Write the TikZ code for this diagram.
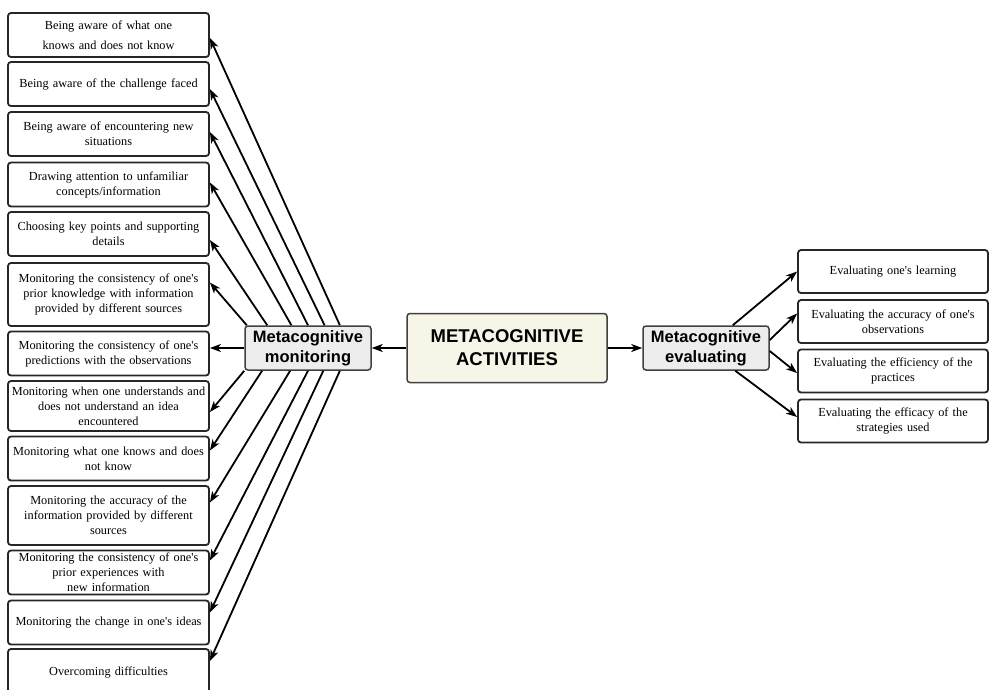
\documentclass[tikz,border=0pt]{standalone}
\usepackage{fontspec}
\setmainfont{Liberation Serif}
\setsansfont{Liberation Sans}
\usepackage{tikz}
\usetikzlibrary{calc, arrows.meta}

\definecolor{cream}{HTML}{F7F5E8}
\definecolor{lightgr}{HTML}{EDEDED}
\newcommand{\q}{\textquotesingle}

\begin{document}
\begin{tikzpicture}[x=1pt, y=-1pt, >={Stealth[length=11pt,width=8pt,inset=3pt]},
    item/.style={draw=black!85, line width=1.8pt, rounded corners=3pt, align=center,
        inner sep=2pt, font=\fontsize{12.3}{15}\selectfont},
    lbox/.style={item, text width=197pt, minimum height=44pt},
    rbox/.style={item, text width=186pt, minimum height=43pt},
    mid/.style={draw=black!75, fill=lightgr, line width=1.5pt, rounded corners=3pt,
        align=center, inner sep=1pt, minimum width=126pt, minimum height=44pt,
        font=\fontsize{16.5}{20}\selectfont\sffamily\bfseries},
    link/.style={->, line width=1.8pt}]
    \useasboundingbox (0,0) rectangle (990,689);

    % Noi dung chinh
    \node[mid, fill=cream, minimum width=200pt, minimum height=69pt,
        font=\fontsize{18.5}{23}\selectfont\sffamily\bfseries] (act) at (507,348)
        {METACOGNITIVE\\ACTIVITIES};
    \node[mid] (mon) at (308,348) {Metacognitive\\monitoring};
    \node[mid] (ev) at (706,348) {Metacognitive\\evaluating};

    % Cot ben trai
    \node[lbox] (m1) at (108.5,35) {Being aware of what one\\[5pt]knows and does not know};
    \node[lbox] (m2) at (108.5,84) {Being aware of the challenge faced};
    \node[lbox] (m3) at (108.5,134) {Being aware of encountering new\\situations};
    \node[lbox] (m4) at (108.5,184.5) {Drawing attention to unfamiliar\\concepts/information};
    \node[lbox] (m5) at (108.5,234) {Choosing key points and supporting\\details};
    \node[lbox, minimum height=63pt] (m6) at (108.5,294.5)
        {Monitoring the consistency of one\q s\\prior knowledge with information\\provided by different sources};
    \node[lbox] (m7) at (108.5,353.5)
        {Monitoring the consistency of one\q s\\predictions with the observations};
    \node[lbox, minimum height=50pt] (m8) at (108.5,406)
        {Monitoring when one understands and\\does not understand an idea\\encountered};
    \node[lbox] (m9) at (108.5,458.5) {Monitoring what one knows and does\\not know};
    \node[lbox, minimum height=59pt] (m10) at (108.5,515.5)
        {Monitoring the accuracy of the\\information provided by different\\sources};
    \node[lbox] (m11) at (108.5,572.5)
        {Monitoring the consistency of one\q s\\prior experiences with\\new information};
    \node[lbox] (m12) at (108.5,622.5) {Monitoring the change in one\q s ideas};
    \node[lbox, minimum height=46pt] (m13) at (108.5,672) {Overcoming difficulties};

    % Cot ben phai
    \node[rbox] (e1) at (893,271.5) {Evaluating one\q s learning};
    \node[rbox] (e2) at (893,321.5) {Evaluating the accuracy of one\q s\\observations};
    \node[rbox] (e3) at (893,371) {Evaluating the efficiency of the\\practices};
    \node[rbox] (e4) at (893,421) {Evaluating the efficacy of the\\strategies used};

    % Mui ten
    \draw[link] (act) -- (mon);
    \draw[link] (act) -- (ev);
    \draw[link] (mon) -- (mon -| m7.east);
    \foreach \f/\n/\s in {0.75/1/-3, 0.63/2/-5, 0.5/3/2, 0.37/4/2, 0.18/5/-6, 0.02/6/12} {
        \draw[link] ($(mon.north west)!\f!(mon.north east)$) -- ([yshift=\s]m\n.east);
    }
    \foreach \f/\n/\s in {0/8/-6, 0.14/9/8, 0.36/10/13, 0.5/11/12, 0.62/12/10, 0.75/13/11} {
        \draw[link] ($(mon.south west)!\f!(mon.south east)$) -- ([yshift=\s]m\n.east);
    }
    \draw[link] ($(ev.north west)!0.71!(ev.north east)$) -- (e1.west);
    \draw[link] ([yshift=8]ev.east) -- ([yshift=8]e2.west);
    \draw[link] ([yshift=-3]ev.east) -- ([yshift=-2]e3.west);
    \draw[link] ($(ev.south west)!0.73!(ev.south east)$) -- ([yshift=4]e4.west);

\end{tikzpicture}
\end{document}
